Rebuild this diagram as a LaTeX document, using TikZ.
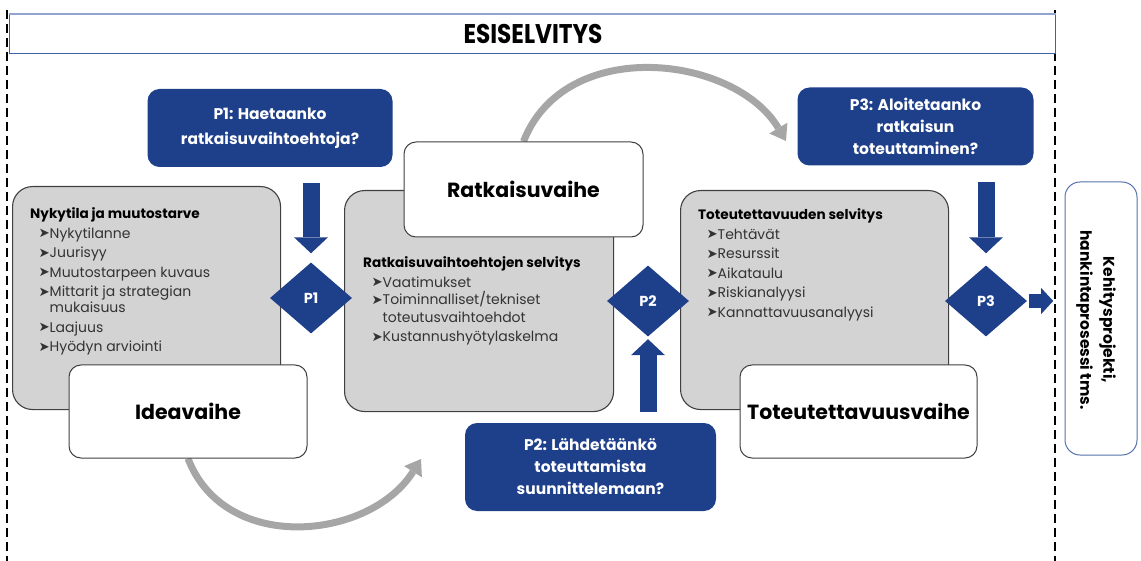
\documentclass[tikz,border=0pt]{standalone}
\usepackage{fontspec}
\usepackage{graphicx}
\setmainfont{Poppins}
\newfontfamily\symfont{DejaVu Sans}
\usetikzlibrary{shapes.geometric,arrows.meta,calc}
\definecolor{dblue}{HTML}{1E3F8A}
\definecolor{boxgray}{HTML}{D3D3D3}
\definecolor{edgegray}{HTML}{404040}
\definecolor{arcgray}{HTML}{A6A6A6}
\definecolor{hblue}{HTML}{3F5FA8}
\definecolor{hlight}{HTML}{91A3CF}
\definecolor{sideblue}{HTML}{5573AE}
\definecolor{itemtext}{HTML}{333333}
\newcommand{\itm}[1]{\makebox[11pt][l]{\symfont\raisebox{0.2pt}{\scalebox{0.95}{➤}}}#1}
\newcommand{\cnt}{\hspace*{8.5pt}}
\pgfdeclarelayer{bg}
\pgfsetlayers{bg,main}
\tikzset{
  graybox/.style={draw=edgegray, fill=boxgray, rounded corners=20pt, line width=1.1pt, inner sep=0pt, anchor=north west},
  whitebox/.style={draw=edgegray, fill=white, rounded corners=12pt, line width=1pt, inner sep=0pt, font=\bfseries\fontsize{20.5}{24}\selectfont},
  bluebox/.style={fill=dblue, rounded corners=12pt, text=white, align=center, inner sep=0pt, font=\bfseries\fontsize{15.5}{22}\selectfont},
  dia/.style={diamond, fill=dblue, text=white, inner sep=0pt, minimum width=82pt, minimum height=71pt, font=\bfseries\fontsize{14.5}{14}\selectfont},
  listtxt/.style={anchor=north west, inner sep=0pt, align=left, text=itemtext, font=\fontsize{14}{19.5}\selectfont},
  arcline/.style={draw=arcgray, line width=7pt, -{Triangle[width=21pt,length=15pt,line width=0pt]}},
  blockarrow/.style={draw=dblue, line width=17pt, -{Triangle[width=34pt,length=16pt,line width=0pt]}},
  smallarrow/.style={draw=dblue, line width=14pt, -{Triangle[width=26pt,length=12pt,line width=0pt]}},
  dashline/.style={draw=black, line width=1.5pt, dash pattern=on 9pt off 5pt}
}
\begin{document}
\begin{tikzpicture}[x=1pt,y=-1pt]
\useasboundingbox (0,0) rectangle (1141,561);

% dashed borders
\coordinate (dlt) at (7,10); \coordinate (dlb) at (7,561);
\coordinate (drt) at (1055,10); \coordinate (drb) at (1055,561);
\draw[dashline] (dlt) -- (dlb);
\draw[dashline] (drt) -- (drb);

% header
\node[draw=hblue, fill=white, line width=1pt, minimum width=1046pt, minimum height=39pt, inner sep=0pt, anchor=north west] (hdr) at (9,14) {};
\draw[hlight, line width=1.2pt] (hdr.north west) -- (hdr.north east);
\node[font=\bfseries\fontsize{27}{27}\selectfont] (ttl) at (533,34) {\scalebox{0.86}[1]{ESISELVITYS}};

% gray boxes
\node[graybox, minimum width=268pt, minimum height=223pt] (g1) at (12,186) {};
\node[graybox, minimum width=269pt, minimum height=221pt] (g3) at (344,190) {};
\node[graybox, minimum width=268pt, minimum height=219pt] (g5) at (680,190) {};

\node[listtxt] (l1) at (30,207.5) {\textcolor{black}{\textbf{\fontsize{13.6}{19.5}\selectfont Nykytila ja muutostarve}}\\
\cnt\itm{Nykytilanne}\\
\cnt\itm{Juurisyy}\\
\cnt\itm{Muutostarpeen kuvaus}\\
\cnt\itm{Mittarit ja strategian}\\[-3.5pt]
\cnt\hspace*{11pt}mukaisuus\\
\cnt\itm{Laajuus}\\
\cnt\itm{Hyödyn arviointi}};

\node[listtxt] (l3) at (363,256.5) {\textcolor{black}{\textbf{\fontsize{13.6}{19.5}\selectfont Ratkaisuvaihtoehtojen selvitys}}\\
\cnt\itm{Vaatimukset}\\[-2pt]
\cnt\itm{Toiminnalliset/tekniset}\\[-2pt]
\cnt\hspace*{11pt}toteutusvaihtoehdot\\
\cnt\itm{Kustannushyötylaskelma}};

\node[listtxt] (l5) at (698,208.5) {\textcolor{black}{\textbf{\fontsize{13.6}{19.5}\selectfont Toteutettavuuden selvitys}}\\
\cnt\itm{Tehtävät}\\
\cnt\itm{Resurssit}\\
\cnt\itm{Aikataulu}\\
\cnt\itm{Riskianalyysi}\\
\cnt\itm{Kannattavuusanalyysi}};

% white phase boxes
\node[whitebox, minimum width=238pt, minimum height=93pt] (iv) at (188,411.5) {Ideavaihe};
\node[whitebox, minimum width=239pt, minimum height=95pt] (rv) at (523.5,189.5) {Ratkaisuvaihe};
\node[whitebox, minimum width=237pt, minimum height=93pt] (tv) at (858.5,411.5) {Toteutettavuusvaihe};

% blue question boxes
\node[bluebox, minimum width=245pt, minimum height=78pt, font=\bfseries\fontsize{15.5}{25}\selectfont] (pb1) at (270,128) {P1: Haetaanko\\ratkaisuvaihtoehtoja?};
\node[bluebox, minimum width=236pt, minimum height=78pt] (pb3) at (915.5,126.5) {P3: Aloitetaanko\\ratkaisun\\toteuttaminen?};
\node[bluebox, minimum width=251pt, minimum height=88pt] (pb2) at (590.5,467) {P2: Lähdetäänkö\\toteuttamista\\suunnittelemaan?};

% diamonds
\node[dia] (d1) at (311,298) {P1};
\node[dia] (d2) at (648,301) {P2};
\node[dia] (d3) at (986,301) {P3};

% block arrows
\draw[blockarrow] ($(d1.north |- pb1.south)+(0,16)$) -- ($(d1.north)+(0,-9)$);
\draw[blockarrow] ($(d3.north |- pb3.south)+(0,16.5)$) -- ($(d3.north)+(0,-12)$);
\draw[blockarrow] (d2.south |- g3.south) -- ($(d2.south)+(0,2.5)$);
\coordinate (outend) at ($(d3.east)+(26,0)$);
\draw[smallarrow] ($(d3.east)+(2,0)$) -- (outend);

% right box
\node[draw=sideblue, rounded corners=15pt, line width=1pt, minimum width=72pt, minimum height=273pt, inner sep=0pt] (kp) at (1101,318.5) {};
\node[rotate=-90, align=center, inner sep=0pt, font=\bfseries\fontsize{15.5}{23}\selectfont] (kpt) at (1096,320) {Kehitysprojekti,\\hankintaprosessi tms.};

% gray arcs
\coordinate (a1end) at (786,141);
\coordinate (a2end) at (421,459);
\begin{pgfonlayer}{bg}
\draw[arcline] (rv.north) .. controls (565,35) and (735,55) .. (a1end);
\draw[arcline] (iv.south) .. controls (225,555) and (370,540) .. (a2end);
\end{pgfonlayer}
\end{tikzpicture}
\end{document}
